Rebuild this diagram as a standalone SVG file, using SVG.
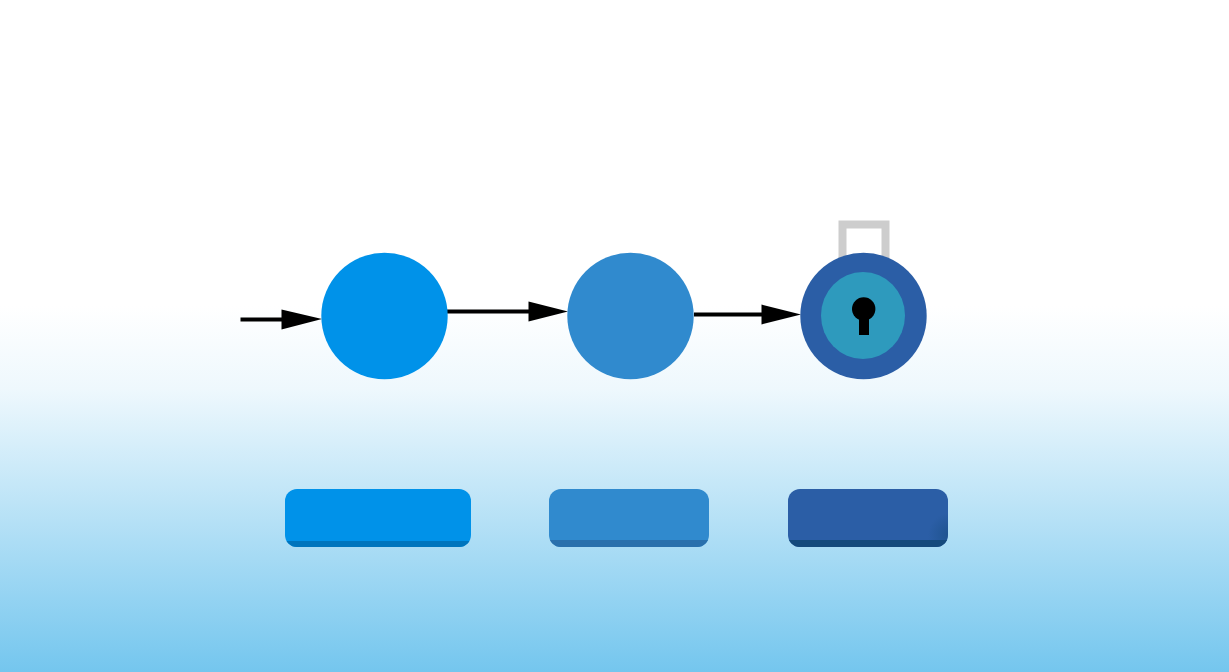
<svg xmlns="http://www.w3.org/2000/svg" width="1229" height="672" viewBox="0 0 1229 672">
<style>
.conn{stroke:#000;stroke-width:4;fill:none}
.head{fill:#000}
</style>
<defs>
<linearGradient id="bg" x1="0" y1="0" x2="0" y2="1">
<stop offset="0" stop-color="#fff"/>
<stop offset="0.455" stop-color="#fff"/>
<stop offset="0.58" stop-color="#eef8fd"/>
<stop offset="1" stop-color="#74c6ee"/>
</linearGradient>
<radialGradient id="shade" gradientUnits="userSpaceOnUse" cx="950" cy="535" r="22">
<stop offset="0" stop-color="#154a7c" stop-opacity="0.55"/>
<stop offset="1" stop-color="#154a7c" stop-opacity="0"/>
</radialGradient>
<clipPath id="c1"><rect x="285" y="489" width="186" height="58" rx="12"/></clipPath>
<clipPath id="c2"><rect x="549" y="489" width="160" height="58" rx="12"/></clipPath>
<clipPath id="c3"><rect x="788" y="489" width="160" height="58" rx="12"/></clipPath>
</defs>
<rect id="background" width="1229" height="672" fill="url(#bg)"/>
<g id="connectors">
<path class="conn" d="M240.500 319.500H285"/>
<polygon class="head" points="281.500,309.500 322,319 281.500,329.500"/>
<path class="conn" d="M447 311.500H532"/>
<polygon class="head" points="528.500,301.500 568,311.500 528.500,321.500"/>
<path class="conn" d="M694 314.500H765"/>
<polygon class="head" points="761.500,304.500 801,314.500 761.500,324.500"/>
</g>
<g id="node-1"><circle cx="384.500" cy="316" r="63.200" fill="#0092e9"/></g>
<g id="node-2"><circle cx="630.500" cy="316" r="63.200" fill="#308ace"/></g>
<g id="node-3">
<path d="M842.500 260V224.500H885.500V260" fill="none" stroke="#cdcdcd" stroke-width="8"/>
<circle cx="863.500" cy="316" r="63.200" fill="#2b5ea6"/>
<ellipse cx="863" cy="315.500" rx="42" ry="43.500" fill="#2e9abd"/>
<circle cx="863.700" cy="309" r="11.700" fill="#000"/>
<rect x="859" y="315" width="10" height="20" fill="#000"/>
</g>
<g id="legend-1" clip-path="url(#c1)">
<rect x="285" y="489" width="186" height="58" fill="#0092e9"/>
<rect x="285" y="541" width="186" height="6" fill="#0075bd"/>
</g>
<g id="legend-2" clip-path="url(#c2)">
<rect x="549" y="489" width="160" height="58" fill="#308ace"/>
<rect x="549" y="540" width="160" height="7" fill="#2a70ac"/>
</g>
<g id="legend-3" clip-path="url(#c3)">
<rect x="788" y="489" width="160" height="58" fill="#2b5ea6"/>
<rect x="788" y="489" width="160" height="58" fill="url(#shade)"/>
<rect x="788" y="540" width="160" height="7" fill="#154a7c"/>
</g>
</svg>
